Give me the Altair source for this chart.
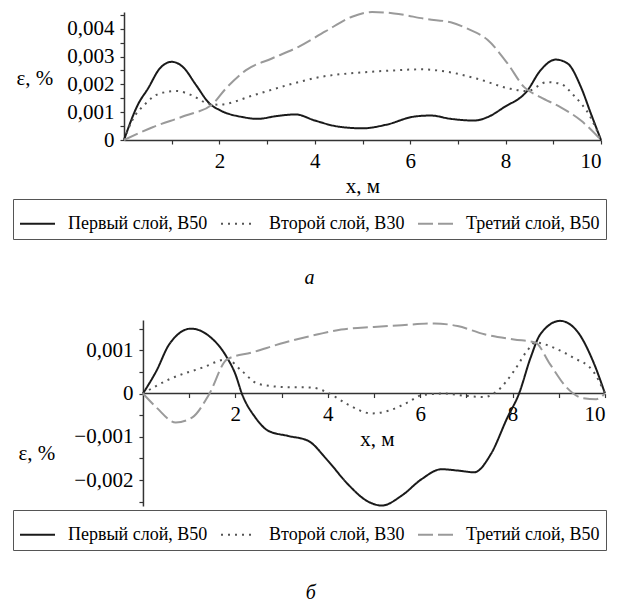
import altair as alt
import pandas as pd

SERIES = ["Первый слой, В50", "Второй слой, В30", "Третий слой, В50"]
COLORS = ["#1a1a1a", "#555555", "#9a9a9a"]
DASHES = [[1, 0], [2, 5], [15, 5]]

# ---- panel a (values in units of 0.001 %) ----
A1_X = [0, 0.3, 0.5, 0.75, 1.0, 1.25, 1.5, 1.8, 2.0, 2.5, 2.8, 3.2, 3.6, 4.0, 4.5, 5.0, 5.5, 6.08, 6.43, 6.85, 7.34, 7.62, 7.97, 8.45, 8.73, 9.05, 9.3, 9.58, 9.79, 10]
A1_Y = [0, 1.3, 1.84, 2.57, 2.81, 2.6, 2.0, 1.3, 1.08, 0.82, 0.76, 0.86, 0.92, 0.70, 0.48, 0.42, 0.55, 0.84, 0.88, 0.76, 0.70, 0.82, 1.18, 1.76, 2.5, 2.89, 2.75, 1.9, 0.94, 0]
A2_X = [0, 0.17, 0.45, 0.73, 1.1, 1.43, 1.78, 2.0, 2.7, 3.4, 4.1, 5.0, 5.66, 6.22, 6.78, 7.41, 8.1, 8.45, 8.87, 9.15, 9.43, 9.78, 10]
A2_Y = [0, 0.7, 1.3, 1.66, 1.76, 1.6, 1.3, 1.27, 1.6, 1.96, 2.26, 2.43, 2.5, 2.54, 2.45, 2.2, 1.84, 1.76, 2.08, 2.02, 1.6, 0.82, 0]
A3_X = [0, 0.6, 1.29, 1.85, 2.13, 2.55, 3.1, 3.66, 4.22, 4.78, 5.2, 5.66, 6.36, 6.85, 7.2, 7.62, 8.04, 8.39, 8.73, 9.15, 9.58, 10]
A3_Y = [0, 0.46, 0.88, 1.28, 1.84, 2.5, 2.93, 3.35, 3.9, 4.43, 4.6, 4.55, 4.34, 4.23, 4.0, 3.6, 2.75, 1.9, 1.54, 1.18, 0.7, 0]

# ---- panel b (values in units of 0.001 %) ----
B1_X = [0, 0.29, 0.57, 1.04, 1.43, 1.82, 2.0, 2.14, 2.43, 2.71, 3.14, 3.57, 4.0, 4.43, 4.86, 5.17, 5.6, 6.03, 6.46, 6.81, 7.17, 7.53, 7.89, 8.14, 8.39, 8.6, 9.03, 9.39, 9.74, 10]
B1_Y = [0, 0.52, 1.14, 1.5, 1.33, 0.83, 0.45, 0, -0.55, -0.86, -0.98, -1.09, -1.55, -2.09, -2.49, -2.59, -2.36, -1.98, -1.75, -1.78, -1.82, -1.4, -0.55, 0, 0.83, 1.37, 1.68, 1.45, 0.75, 0]
B2_X = [0, 0.57, 1.29, 1.82, 2.14, 2.5, 3.07, 3.64, 4.0, 4.43, 4.95, 5.31, 5.74, 6.03, 6.53, 6.96, 7.39, 7.67, 8.03, 8.31, 8.49, 8.89, 9.31, 9.74, 10]
B2_Y = [0, 0.33, 0.6, 0.79, 0.52, 0.22, 0.15, 0.14, 0.02, -0.25, -0.46, -0.4, -0.2, -0.04, 0, -0.05, -0.08, 0.06, 0.52, 0.98, 1.18, 1.06, 0.83, 0.52, 0]
B3_X = [0, 0.29, 0.71, 1.07, 1.43, 1.82, 2.36, 3.07, 3.79, 4.29, 5.0, 5.6, 6.31, 6.81, 7.39, 8.03, 8.49, 8.81, 9.17, 9.53, 9.81, 10]
B3_Y = [0, -0.32, -0.67, -0.55, -0.02, 0.79, 0.95, 1.18, 1.37, 1.48, 1.54, 1.58, 1.62, 1.56, 1.37, 1.25, 1.18, 0.68, 0.14, -0.11, -0.13, 0]

X_TICKS = [1, 2, 3, 4, 5, 6, 7, 8, 9, 10]
A_YTICKS = [0, 0.0005, 0.001, 0.0015, 0.002, 0.0025, 0.003, 0.0035, 0.004, 0.0045]
B_YTICKS = [-0.0025, -0.002, -0.0015, -0.001, -0.0005, 0, 0.0005, 0.001, 0.0015]
A_XDOM = [0, 10]
B_XDOM = [-0.41, 10]
A_YDOM = [0, 0.0046]
B_YDOM = [-0.0026, 0.0017]
ZERO_LINE = pd.DataFrame({"x": [0], "x_end": [10], "y": [0]})

FONT = "Liberation Serif"


def frame(xs_list, ys_list):
    rows = []
    for name, xs, ys in zip(SERIES, xs_list, ys_list):
        for i, (x, y) in enumerate(zip(xs, ys)):
            rows.append({"series": name, "x": x, "y": y / 1000.0, "order": i})
    return pd.DataFrame(rows)


ODD = "round(datum.value*2000) % 2 != 0"
YLABEL = ("round(datum.value*2000) % 2 == 0 ? (datum.value == 0 ? '0' : "
          "replace(format(datum.value, '.3f'), '.', ',')) : ''")


def panel(df, width, height, xdom, ydom, yticks, tx, ty, lx, ly, caption, cap_off, panel_b):
    leg = alt.Legend(title=None, orient="none", legendX=lx, legendY=ly,
                     direction="horizontal")
    yaxis_px = width * (0 - xdom[0]) / (xdom[1] - xdom[0])
    xaxis_px = height * (0 - ydom[0]) / (ydom[1] - ydom[0])
    xaxis_kw = dict(values=X_TICKS, title="x, м",
                    labelExpr="datum.value % 2 == 0 ? datum.label : ''", titlePadding=4)
    if panel_b:
        xaxis_kw.update(offset=-xaxis_px, domain=False, titleX=253)
    xaxis = alt.Axis(**xaxis_kw)
    yaxis = alt.Axis(values=yticks, labelExpr=YLABEL, title="ε, %",
                     labelFontSize={"condition": {"test": ODD, "value": 1}, "value": 21},
                     offset=-yaxis_px, titleAngle=0, titleAlign="left",
                     titleBaseline="middle", titleX=tx, titleY=ty)
    xs = alt.Scale(domain=xdom, nice=False)
    ys = alt.Scale(domain=ydom, nice=False, zero=False)
    lines = alt.Chart(df).mark_line(interpolate="monotone", strokeWidth=2).encode(
        x=alt.X("x:Q", scale=xs, axis=xaxis),
        y=alt.Y("y:Q", scale=ys, axis=yaxis),
        color=alt.Color("series:N", scale=alt.Scale(domain=SERIES, range=COLORS), legend=leg),
        strokeDash=alt.StrokeDash("series:N", scale=alt.Scale(domain=SERIES, range=DASHES), legend=leg),
        order=alt.Order("order:Q"),
    )
    layers = [lines]
    if panel_b:
        zero = alt.Chart(ZERO_LINE).mark_rule(color="#333333", strokeWidth=1.5).encode(
            x=alt.X("x:Q", scale=xs, axis=xaxis), x2="x_end:Q",
            y=alt.Y("y:Q", scale=ys, axis=yaxis),
        )
        layers = [zero, lines]
    return alt.layer(*layers).properties(
        width=width, height=height,
        title=alt.TitleParams(caption, orient="bottom", font=FONT, fontSize=20,
                              fontStyle="italic", fontWeight="normal", offset=cap_off,
                              anchor="middle", frame="bounds", color="black"),
    )


a = panel(frame([A1_X, A2_X, A3_X], [A1_Y, A2_Y, A3_Y]), 477, 128, A_XDOM, A_YDOM,
          A_YTICKS, -108, 66, -111, 187, "а", 28, False)
b = panel(frame([B1_X, B2_X, B3_X], [B1_Y, B2_Y, B3_Y]), 481, 186, B_XDOM, B_YDOM,
          B_YTICKS, -125, 133, -111, 190, "б", 32, True)

chart = alt.ConcatChart(concat=[a, b], columns=1, spacing=28).resolve_scale(
    color="independent", strokeDash="independent", x="independent", y="independent"
).resolve_legend(color="independent", strokeDash="independent").properties(
    padding={"left": 4, "top": 0, "right": 0, "bottom": 0}
).configure_view(stroke=None).configure_axis(
    labelFont=FONT, titleFont=FONT, labelFontSize=21, titleFontSize=21,
    titleFontWeight="normal", labelColor="black", titleColor="black",
    domainColor="#333333", domainWidth=1.5, tickColor="#333333", tickWidth=1.2,
    tickSize=4, labelPadding=6, grid=False
).configure_legend(
    labelFont=FONT, labelFontSize=18, labelColor="black", symbolType="stroke",
    symbolSize=1225, symbolStrokeWidth=2, labelOffset=12, columnPadding=9,
    padding=6, strokeColor="#555555", labelLimit=300
)

chart.save("out.html", embed_options={"renderer": "svg", "actions": False})
